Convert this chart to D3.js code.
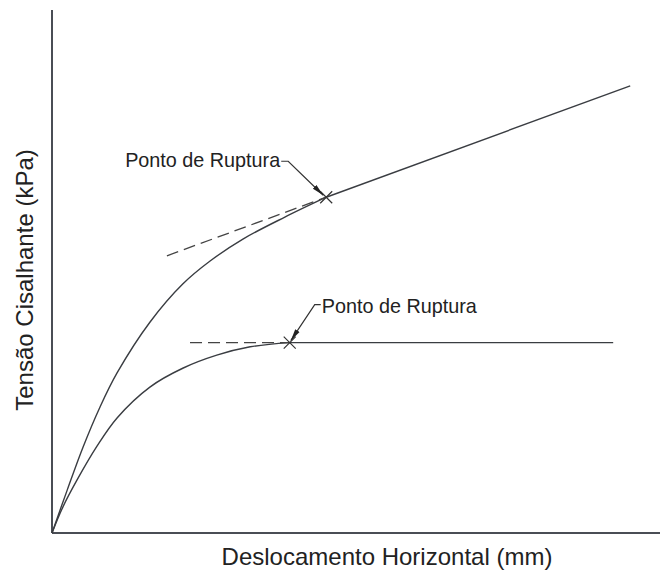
<!DOCTYPE html>
<html>
<head>
<meta charset="utf-8">
<script src="https://cdn.jsdelivr.net/npm/d3@7"></script>
<style>
  body { margin: 0; background: #fff; }
  text { font-family: "Liberation Sans", Arial, sans-serif; fill: #222; }
</style>
</head>
<body>
<svg width="660" height="571"></svg>
<script>
// displacement (x) and shear stress (y), arbitrary units 0-100 (no ticks on the original)
var upperX = [0, 2.5, 5.1, 7.9, 10.7, 16.1, 21.5, 26.0, 31.4, 38.3, 45.1];
var upperY = [0, 8.2, 16.4, 24.1, 30.6, 40.3, 47.6, 52.0, 56.2, 60.4, 64.2];
var upperLinearX = [45.1, 95.1];
var upperLinearY = [64.2, 85.5];
var upperTangentX = [18.9, 45.1];
var upperTangentY = [53.0, 64.2];

var lowerX = [0, 1.8, 4.1, 7.4, 10.7, 16.1, 21.5, 27.1, 32.6, 39.1];
var lowerY = [0, 5.0, 10.1, 16.6, 22.0, 27.9, 31.5, 34.0, 35.6, 36.4];
var lowerLinearX = [39.1, 92.3];
var lowerLinearY = [36.4, 36.4];
var lowerTangentX = [22.7, 39.1];
var lowerTangentY = [36.4, 36.4];

var ruptureX = [45.1, 39.1];
var ruptureY = [64.2, 36.4];
var ruptureLabels = ['Ponto de Ruptura', 'Ponto de Ruptura'];

var xLabel = 'Deslocamento Horizontal (mm)';
var yLabel = 'Tensão Cisalhante (kPa)';

var svg = d3.select('svg');
var x = d3.scaleLinear().domain([0, 100]).range([52, 660]);
var y = d3.scaleLinear().domain([0, 100]).range([533, 10]);

function pts(xs, ys) { return xs.map(function(v, i) { return [v, ys[i]]; }); }

var curve = d3.line().x(function(d) { return x(d[0]); }).y(function(d) { return y(d[1]); })
  .curve(d3.curveCatmullRom.alpha(0.5));
var straight = d3.line().x(function(d) { return x(d[0]); }).y(function(d) { return y(d[1]); });

var ink = '#3a3d42';

svg.append('defs').append('marker')
  .attr('id', 'head').attr('viewBox', '0 -3 12 6')
  .attr('refX', 12).attr('refY', 0)
  .attr('markerWidth', 12).attr('markerHeight', 6)
  .attr('markerUnits', 'userSpaceOnUse')
  .attr('orient', 'auto')
  .append('path').attr('d', 'M0,-2.6L12,0L0,2.6Z').attr('fill', '#222');

// axes (no ticks)
svg.append('line').attr('x1', x(0)).attr('x2', x(0)).attr('y1', y(100)).attr('y2', y(0))
  .attr('stroke', '#4a4e55').attr('stroke-width', 2);
svg.append('line').attr('x1', x(0)).attr('x2', x(100)).attr('y1', y(0)).attr('y2', y(0))
  .attr('stroke', '#4a4e55').attr('stroke-width', 2);

// curves
[[upperX, upperY], [lowerX, lowerY]].forEach(function(c) {
  svg.append('path').attr('d', curve(pts(c[0], c[1])))
    .attr('fill', 'none').attr('stroke', ink).attr('stroke-width', 1.4);
});
[[upperLinearX, upperLinearY], [lowerLinearX, lowerLinearY]].forEach(function(c) {
  svg.append('path').attr('d', straight(pts(c[0], c[1])))
    .attr('fill', 'none').attr('stroke', ink).attr('stroke-width', 1.4);
});
[[upperTangentX, upperTangentY], [lowerTangentX, lowerTangentY]].forEach(function(c) {
  svg.append('path').attr('d', straight(pts(c[0], c[1])))
    .attr('fill', 'none').attr('stroke', '#444').attr('stroke-width', 1.3)
    .attr('stroke-dasharray', '12,6');
});

// rupture marks
var r = 6;
ruptureX.forEach(function(v, i) {
  var cx = x(v), cy = y(ruptureY[i]);
  svg.append('path')
    .attr('d', 'M' + (cx - r) + ',' + (cy - r) + 'L' + (cx + r) + ',' + (cy + r) +
               'M' + (cx - r) + ',' + (cy + r) + 'L' + (cx + r) + ',' + (cy - r))
    .attr('stroke', '#333').attr('stroke-width', 1.2);
});

// annotations
var ux = x(ruptureX[0]), uy = y(ruptureY[0]);
svg.append('text').attr('x', ux - 46).attr('y', uy - 30).attr('text-anchor', 'end')
  .attr('font-size', 19.8).text(ruptureLabels[0]);
svg.append('path')
  .attr('d', 'M' + (ux - 45) + ',' + (uy - 36) + 'L' + (ux - 38) + ',' + (uy - 36) +
             'L' + (ux - 3) + ',' + (uy - 2))
  .attr('fill', 'none').attr('stroke', '#333').attr('stroke-width', 1.2)
  .attr('marker-end', 'url(#head)');

var lx = x(ruptureX[1]), ly = y(ruptureY[1]);
svg.append('text').attr('x', lx + 32).attr('y', ly - 30)
  .attr('font-size', 19.8).text(ruptureLabels[1]);
svg.append('path')
  .attr('d', 'M' + (lx + 31) + ',' + (ly - 38) + 'L' + (lx + 25) + ',' + (ly - 38) +
             'L' + (lx + 1) + ',' + (ly - 2))
  .attr('fill', 'none').attr('stroke', '#333').attr('stroke-width', 1.2)
  .attr('marker-end', 'url(#head)');

// axis labels
svg.append('text').attr('x', 387).attr('y', 565).attr('text-anchor', 'middle')
  .attr('font-size', 24).text(xLabel);
svg.append('text').attr('transform', 'translate(33,280) rotate(-90)')
  .attr('text-anchor', 'middle').attr('font-size', 24).text(yLabel);
</script>
</body>
</html>
